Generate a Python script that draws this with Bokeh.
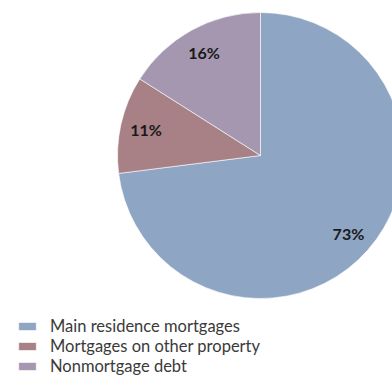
import math
from bokeh.plotting import figure
from bokeh.models import Range1d, Legend, LegendItem, ColumnDataSource
from bokeh.core.properties import value
from bokeh.embed import file_html
from bokeh.resources import INLINE

categories = ["Main residence mortgages", "Mortgages on other property", "Nonmortgage debt"]
shares = [73, 11, 16]
labels = ["73%", "11%", "16%"]
colors = ["#8EA5C4", "#A78186", "#A597B0"]

W, H = 392, 376
p = figure(width=W, height=H, output_backend="svg", toolbar_location=None,
           x_range=Range1d(0, W), y_range=Range1d(0, H), min_border=0)
p.axis.visible = False
p.grid.visible = False
p.outline_line_color = None
p.background_fill_color = "white"
p.border_fill_color = "white"

cx, cy, r = 260, H - 155, 143
total = sum(shares)
start = math.pi / 2
starts, ends, lx, ly = [], [], [], []
for s in shares:
    sweep = 2 * math.pi * s / total
    e = start - sweep
    starts.append(start)
    ends.append(e)
    mid = (start + e) / 2
    lx.append(cx + 0.82 * r * math.cos(mid))
    ly.append(cy + 0.82 * r * math.sin(mid))
    start = e

src = ColumnDataSource(dict(start=starts, end=ends, color=colors, cat=categories, lx=lx, ly=ly, lab=labels))
renderers = []
for i in range(len(shares)):
    rr = p.wedge(x=cx, y=cy, radius=r, start_angle=starts[i], end_angle=ends[i], direction="clock",
                 fill_color=colors[i], line_color="white", line_width=0.6)
    renderers.append(rr)

p.text(x="lx", y="ly", text="lab", source=src, text_align="center", text_baseline="middle",
       text_font=value("Lato"), text_font_style="bold", text_font_size="16px", text_color="#1a1a1a")

legend = Legend(items=[LegendItem(label=categories[i], renderers=[renderers[i]]) for i in range(3)],
                location=(16, 0), orientation="vertical", glyph_width=22, glyph_height=10,
                label_height=18, spacing=0, padding=0, margin=0, border_line_color=None,
                background_fill_alpha=0, label_text_font="Lato", label_text_font_size="16.5px",
                label_text_color="#3a3a3a", label_standoff=12, label_text_line_height=1.0)
p.add_layout(legend)

open("out.html", "w").write(file_html(p, INLINE))
